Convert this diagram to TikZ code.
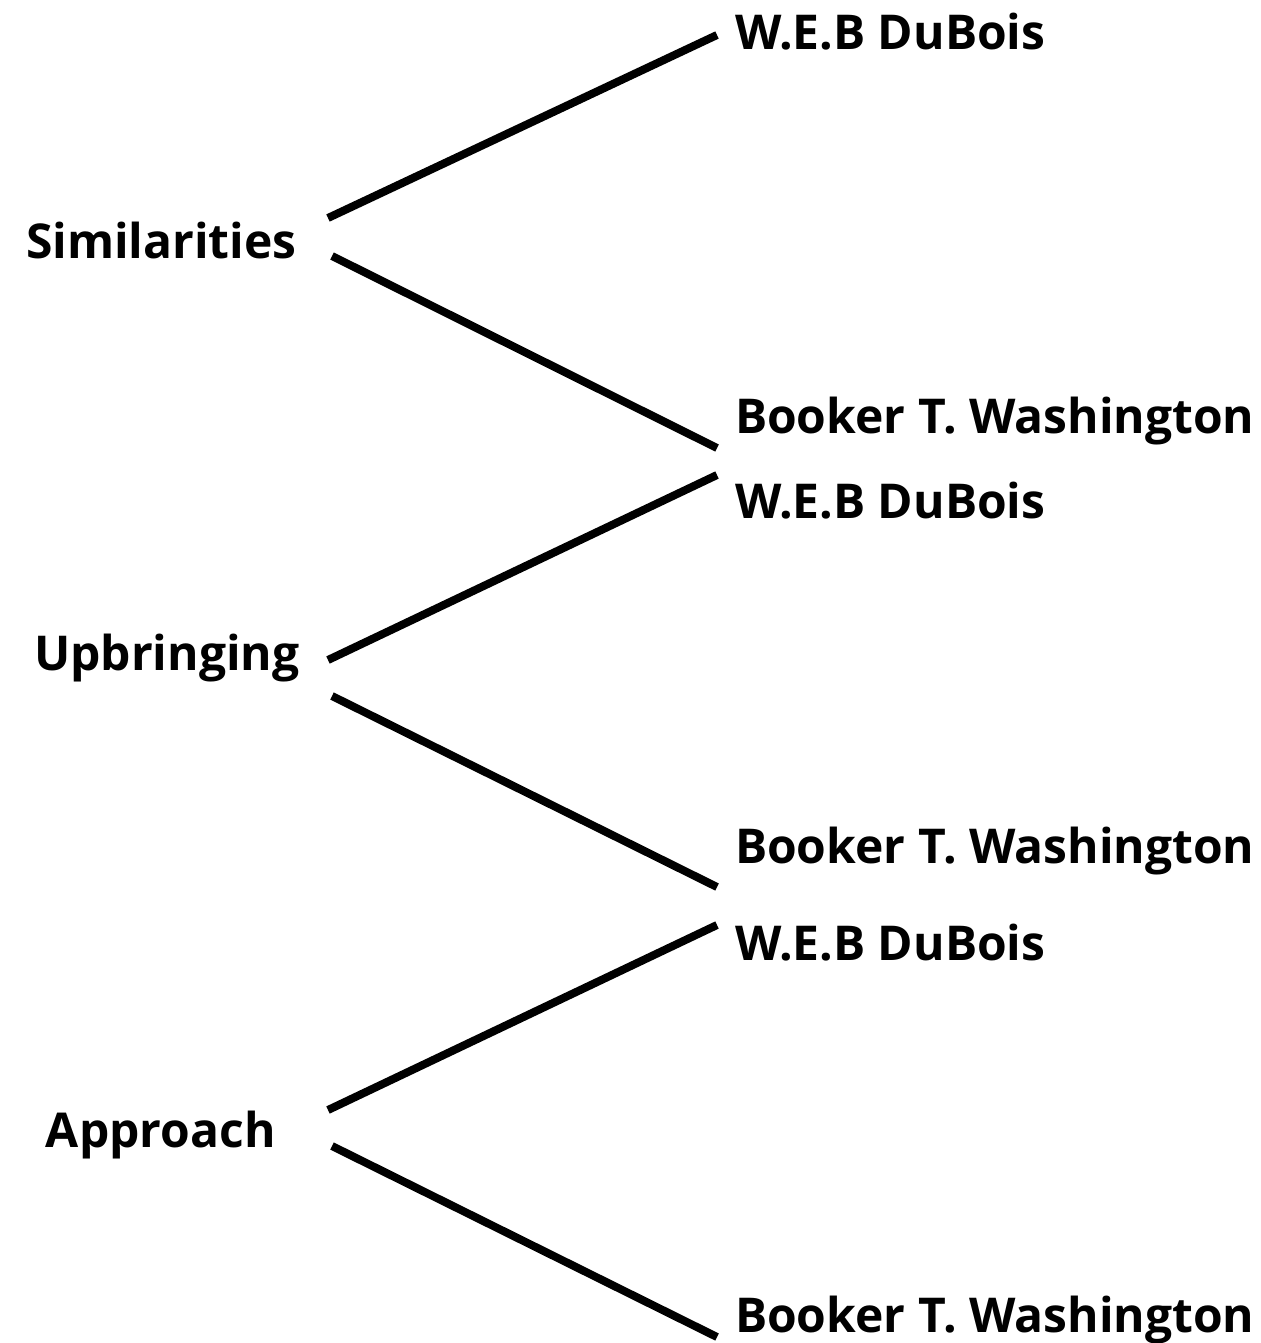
\documentclass[tikz,border=0pt]{standalone}
\usepackage{fontspec}
\setmainfont{Open Sans}
\usetikzlibrary{positioning}

\begin{document}
\begin{tikzpicture}[x=0.5pt,y=-0.5pt,line width=4pt,
                    every node/.style={font=\bfseries\fontsize{24}{29}\selectfont,
                                       inner sep=0pt,anchor=base west}]
      \useasboundingbox (0,0) rectangle (1260,1343);

      \node (sim)    at (22,258)   {Similarities};
      \node (simweb) at (731,50)   {W.E.B DuBois};
      \node (simbtw) at (731,433)  {Booker T. Washington};
      \node (upb)    at (30,670)   {Upbringing};
      \node (upbweb) at (731,518)  {W.E.B DuBois};
      \node (upbbtw) at (731,863)  {Booker T. Washington};
      \node (app)    at (42,1147)  {Approach};
      \node (appweb) at (731,960)  {W.E.B DuBois};
      \node (appbtw) at (731,1332) {Booker T. Washington};

      % ends of the branches
      \coordinate (sim1) at (328,218);   \coordinate (simweb1) at (717,35);
      \coordinate (sim2) at (332,256);   \coordinate (simbtw1) at (717,448);
      \coordinate (upb1) at (328,660);   \coordinate (upbweb1) at (717,475);
      \coordinate (upb2) at (332,696);   \coordinate (upbbtw1) at (717,887);
      \coordinate (app1) at (328,1110);  \coordinate (appweb1) at (717,925);
      \coordinate (app2) at (332,1146);  \coordinate (appbtw1) at (717,1337);

      \draw (sim1) -- (simweb1);
      \draw (sim2) -- (simbtw1);
      \draw (upb1) -- (upbweb1);
      \draw (upb2) -- (upbbtw1);
      \draw (app1) -- (appweb1);
      \draw (app2) -- (appbtw1);
\end{tikzpicture}
\end{document}
